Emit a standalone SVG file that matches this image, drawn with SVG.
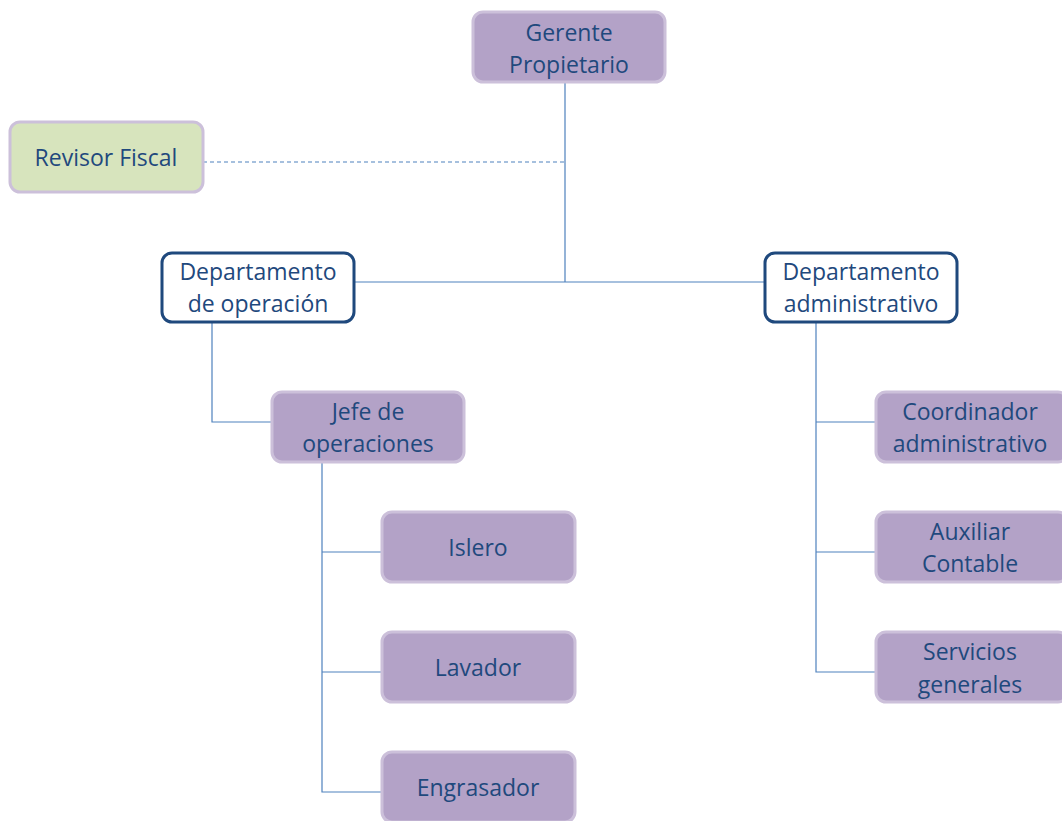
<svg xmlns="http://www.w3.org/2000/svg" width="1062" height="821" viewBox="0 0 1062 821">
<style>
.p{fill:#b3a2c7;stroke:#ccc0da;stroke-width:3}
.g{fill:#d7e4bd;stroke:#ccc0da;stroke-width:3}
.w{fill:#ffffff;stroke:#1f497d;stroke-width:3}
text{font-family:"Open Sans","Liberation Sans",sans-serif;font-size:23px;fill:#1f497d;text-anchor:middle;dominant-baseline:central}
.c{fill:none;stroke:#4f81bd;stroke-width:1.2}
</style>
<rect width="1062" height="821" fill="#ffffff"/>
<g id="connectors">
<path class="c" d="M565 83V282M354 282H765"/>
<path class="c" d="M203 162H565" stroke-dasharray="4 3"/>
<path class="c" d="M212 323V422H272"/>
<path class="c" d="M322 463V792H382M322 552H382M322 672H382"/>
<path class="c" d="M816 323V672H876M816 422H876M816 552H876"/>
</g>
<g id="gerente"><rect class="p" x="473" y="12" width="192" height="70" rx="10"/><text x="569" y="32">Gerente</text><text x="569" y="64">Propietario</text></g>
<g id="revisor"><rect class="g" x="10" y="122" width="193" height="70" rx="10"/><text x="106" y="157">Revisor Fiscal</text></g>
<g id="dep-operacion"><rect class="w" x="162" y="253" width="192" height="69" rx="10"/><text x="258" y="271">Departamento</text><text x="258" y="303">de operación</text></g>
<g id="dep-admin"><rect class="w" x="765" y="253" width="192" height="69" rx="10"/><text x="861" y="271">Departamento</text><text x="861" y="303">administrativo</text></g>
<g id="jefe"><rect class="p" x="272" y="392" width="192" height="70" rx="10"/><text x="368" y="411">Jefe de</text><text x="368" y="443">operaciones</text></g>
<g id="islero"><rect class="p" x="382" y="512" width="193" height="70" rx="10"/><text x="478" y="547">Islero</text></g>
<g id="lavador"><rect class="p" x="382" y="632" width="193" height="70" rx="10"/><text x="478" y="667">Lavador</text></g>
<g id="engrasador"><rect class="p" x="382" y="752" width="193" height="70" rx="10"/><text x="478" y="787">Engrasador</text></g>
<g id="coordinador"><rect class="p" x="876" y="392" width="192" height="70" rx="10"/><text x="970" y="411">Coordinador</text><text x="970" y="443">administrativo</text></g>
<g id="auxiliar"><rect class="p" x="876" y="512" width="192" height="70" rx="10"/><text x="970" y="531">Auxiliar</text><text x="970" y="563">Contable</text></g>
<g id="servicios"><rect class="p" x="876" y="632" width="192" height="70" rx="10"/><text x="970" y="651">Servicios</text><text x="970" y="684">generales</text></g>
</svg>
